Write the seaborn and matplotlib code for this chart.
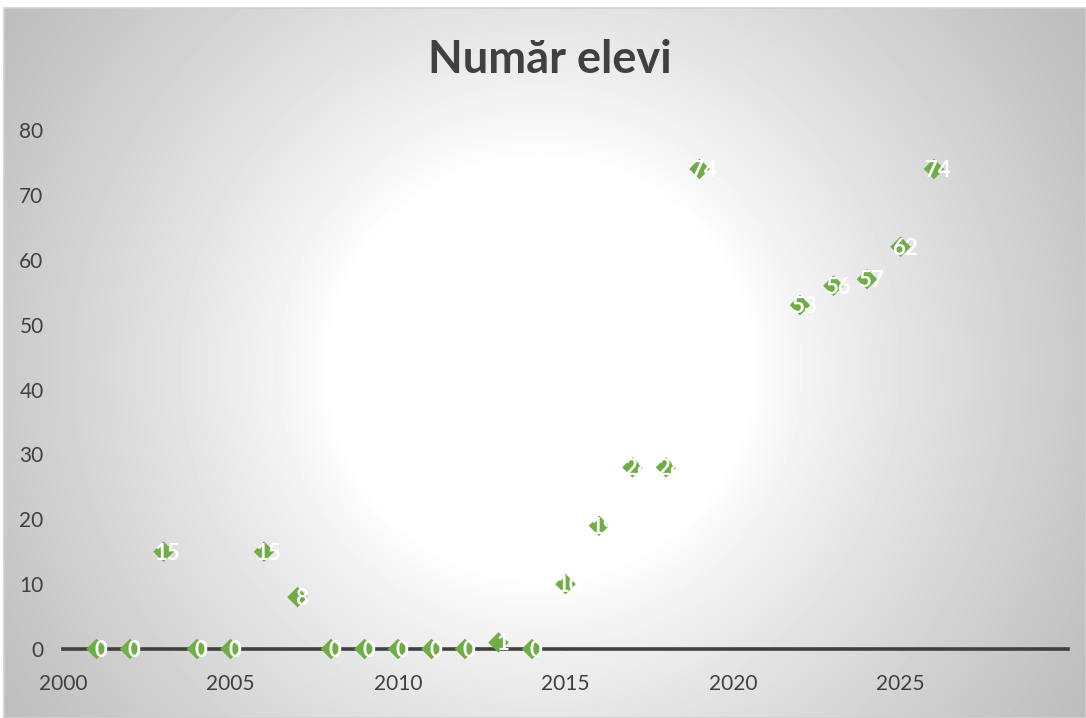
import numpy as np
import pandas as pd
import matplotlib
matplotlib.use('Agg')
import matplotlib.pyplot as plt
import seaborn as sns

# data
years = [2001, 2002, 2003, 2004, 2005, 2006, 2007, 2008, 2009, 2010, 2011, 2012,
         2013, 2014, 2015, 2016, 2017, 2018, 2019, 2022, 2023, 2024, 2025, 2026]
students = [0, 0, 15, 0, 0, 15, 8, 0, 0, 0, 0, 0,
            1, 0, 10, 19, 28, 28, 74, 53, 56, 57, 62, 74]
x_ticks = [2000, 2005, 2010, 2015, 2020, 2025]
y_ticks = [0, 10, 20, 30, 40, 50, 60, 70, 80]
title = 'Număr elevi'

sns.set_theme(style='white')
plt.rcParams['font.family'] = ['Lato', 'DejaVu Sans']

W, H = 1086, 718
fig = plt.figure(figsize=(W / 100, H / 100), dpi=100)
fig.patch.set_facecolor('white')

# radial gradient background of the chart area
x0, y0 = 4, 8
bg = fig.add_axes([x0 / W, 0, 1 - x0 / W, 1 - y0 / H], zorder=0)
gx, gy = np.meshgrid(np.arange(W - x0), np.arange(H - y0))
cx, cy = (W - x0) / 2 - 5, (H - y0) / 2 + 5
r = np.sqrt((gx - cx) ** 2 + (gy - cy) ** 2)
t = np.clip((r - 210) / 420, 0, 1)
t = t ** 0.85
grey = 1 - t * (1 - 190 / 255)
bg.imshow(grey, cmap='gray', vmin=0, vmax=1, aspect='auto', interpolation='bilinear')
bg.set_axis_off()
fig.patches.append(plt.Rectangle((x0 / W, 0), 1 - x0 / W, 1 - y0 / H, transform=fig.transFigure,
                                 fill=False, edgecolor='#d0d0d0', linewidth=1.2, zorder=1))

ax = fig.add_axes([63 / W, 69 / H, (1068 - 63) / W, (649 - 130) / H], zorder=2)
ax.patch.set_alpha(0)

df = pd.DataFrame({'year': years, 'students': students})
sns.scatterplot(data=df, x='year', y='students', ax=ax, marker='D', s=110,
                color='#70AD47', edgecolor='none', linewidth=0, clip_on=False, zorder=3)

for xv, yv in zip(years, students):
    ax.annotate(str(yv), (xv, yv), xytext=(3, -1), textcoords='offset points',
                ha='center', va='center', color='white', fontsize=16, fontweight='bold',
                zorder=4, annotation_clip=False)

ax.set_xlim(2000, 2030)
ax.set_ylim(0, 80)
ax.set_xticks(x_ticks)
ax.set_yticks(y_ticks)
ax.set_xlabel('')
ax.set_ylabel('')
for s in ['top', 'right', 'left']:
    ax.spines[s].set_visible(False)
ax.spines['bottom'].set_color('#404040')
ax.spines['bottom'].set_linewidth(2.6)
ax.spines['bottom'].set_zorder(2)
ax.tick_params(axis='x', colors='#404040', labelcolor='#404040', labelsize=15,
               length=2, width=1, direction='inout', pad=17, bottom=True)
ax.tick_params(axis='y', labelcolor='#404040', labelsize=15, length=0, pad=14)
ax.grid(False)

fig.text(0.506, 1 - 60 / H, title, ha='center', va='center', fontsize=32.5,
         fontweight='bold', color='#404040', zorder=5)

fig.savefig('out.png', dpi=100)
